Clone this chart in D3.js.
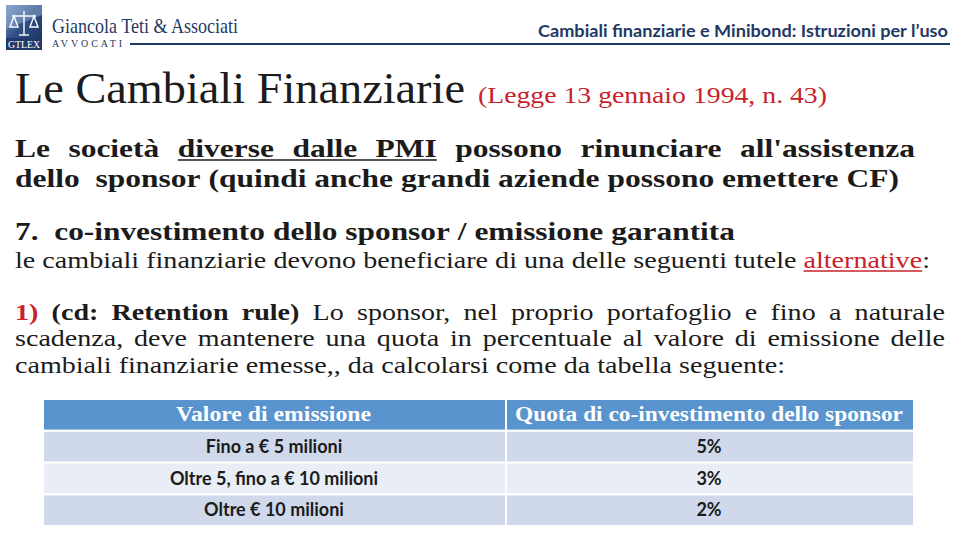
<!DOCTYPE html>
<html>
<head>
<meta charset="utf-8">
<script src="https://cdn.jsdelivr.net/npm/d3@7"></script>
<style>
  html, body { margin: 0; padding: 0; background: #fff; }
  svg { display: block; }
</style>
</head>
<body>
<div id="slide"></div>
<script>

// slide texts
var headerFirm = "Giancola Teti & Associati";
var headerSub = "AVVOCATI";
var headerTopic = "Cambiali finanziarie e Minibond: Istruzioni per l\u2019uso";
var titleMain = "Le Cambiali Finanziarie";
var titleRef = "(Legge 13 gennaio 1994, n. 43)";

// table data
var tableHeaders = ["Valore di emissione", "Quota di co-investimento dello sponsor"];
var tableValori = ["Fino a \u20ac 5 milioni", "Oltre 5, fino a \u20ac 10 milioni", "Oltre \u20ac 10 milioni"];
var tableQuote = ["5%", "3%", "2%"];

var W = 960, H = 542;
var ink = "#1b1b1b", red = "#c8232c", navy = "#1f3864";
var serif = "'Liberation Serif', serif";

var svg = d3.select("#slide").append("svg")
    .attr("width", W)
    .attr("height", H)
    .attr("viewBox", "0 0 " + W + " " + H);

svg.append("rect").attr("width", W).attr("height", H).attr("fill", "#fff");

/**
 * Draws one line of mixed-style words, squeezed or justified to a width.
 * segs: [{t, b, c, u}] ; opt: {x, y, width, size, family, justify, sx}
 * returns the horizontal glyph scale used
 */
function drawLine(parent, segs, opt){
    var fam = opt.family || serif;
    var g = parent.append("g").attr("transform", "translate(" + opt.x + "," + opt.y + ")");
    var tokens = [];
    segs.forEach(function(s, si){
        (s.t.match(/ *[^ ]+/g) || []).forEach(function(chunk){
            var word = chunk.replace(/^ +/, "");
            tokens.push({w: word, pre: chunk.length - word.length, s: s, si: si});
        });
    });

    // measure a space
    var probe = g.append("text").attr("font-family", fam).attr("font-size", opt.size)
        .style("white-space", "pre").text("n n");
    var withSp = probe.node().getComputedTextLength();
    probe.text("nn");
    var space = withSp - probe.node().getComputedTextLength();
    probe.remove();

    var inner = g.append("g");
    var sum = 0, spaces = 0;
    tokens.forEach(function(tk){
        tk.node = inner.append("text")
            .attr("font-family", fam)
            .attr("font-size", opt.size)
            .attr("font-weight", tk.s.b ? "bold" : "normal")
            .attr("fill", tk.s.c || ink)
            .text(tk.w);
        tk.len = tk.node.node().getComputedTextLength();
        sum += tk.len;
        spaces += tk.pre;
    });

    var sx, gap;
    if(opt.justify){
        sx = opt.sx || 1;
        gap = (opt.width - sum * sx) / spaces / sx;
    } else {
        sx = opt.width / (sum + space * spaces);
        gap = space;
    }
    inner.attr("transform", "scale(" + sx + ",1)");

    var pos = 0;
    tokens.forEach(function(tk){
        pos += tk.pre * gap;
        tk.x0 = pos;
        tk.node.attr("x", pos);
        pos += tk.len;
        tk.x1 = pos;
    });

    // underlines per segment
    segs.forEach(function(s, si){
        if(!s.u) return;
        var ts = tokens.filter(function(tk){ return tk.si === si; });
        inner.append("line")
            .attr("x1", ts[0].x0).attr("x2", ts[ts.length - 1].x1)
            .attr("y1", 3).attr("y2", 3)
            .attr("stroke", s.c || ink)
            .attr("stroke-width", 1.6);
    });
    return sx;
}

// ---------- header ----------
var logo = svg.append("g").attr("transform", "translate(6,5)");
var grad = svg.append("defs").append("linearGradient")
    .attr("id", "logoGrad").attr("x1", 0).attr("y1", 0).attr("x2", 1).attr("y2", 1);
grad.append("stop").attr("offset", "0%").attr("stop-color", "#7d9cc8");
grad.append("stop").attr("offset", "45%").attr("stop-color", "#2f4f86");
grad.append("stop").attr("offset", "100%").attr("stop-color", "#1a2f5a");

logo.append("rect").attr("width", 36).attr("height", 45).attr("fill", "url(#logoGrad)");
logo.append("path").attr("d", "M0,0 L36,0 L36,10 L0,24 Z").attr("fill", "#9fb6d8").attr("opacity", 0.45);
// scales icon
var sc = logo.append("g").attr("stroke", "#fff").attr("stroke-width", 1.4).attr("fill", "none");
sc.append("line").attr("x1", 18).attr("y1", 6).attr("x2", 18).attr("y2", 30);
sc.append("line").attr("x1", 6).attr("y1", 11).attr("x2", 30).attr("y2", 11);
sc.append("path").attr("d", "M8,11 L4,22 L12,22 Z M28,11 L24,22 L32,22 Z");
sc.append("line").attr("x1", 13).attr("y1", 30).attr("x2", 23).attr("y2", 30);
logo.append("rect").attr("x", 0).attr("y", 33).attr("width", 36).attr("height", 12).attr("fill", "#23386a");
logo.append("text")
    .attr("x", 18).attr("y", 43)
    .attr("text-anchor", "middle")
    .attr("font-family", serif)
    .attr("font-size", 10)
    .attr("fill", "#fff")
    .attr("textLength", 32).attr("lengthAdjust", "spacingAndGlyphs")
    .text("GTLEX");

svg.append("text")
    .attr("x", 52).attr("y", 33)
    .attr("font-family", serif)
    .attr("font-size", 21)
    .attr("fill", navy)
    .attr("textLength", 186).attr("lengthAdjust", "spacingAndGlyphs")
    .text(headerFirm);

svg.append("text")
    .attr("x", 52).attr("y", 47)
    .attr("font-family", serif)
    .attr("font-size", 10)
    .attr("fill", navy)
    .attr("textLength", 70).attr("lengthAdjust", "spacing")
    .text(headerSub);

svg.append("line")
    .attr("x1", 130).attr("x2", 950)
    .attr("y1", 44).attr("y2", 44)
    .attr("stroke", navy).attr("stroke-width", 2);

svg.append("text")
    .attr("x", 538).attr("y", 37)
    .attr("font-family", "Lato, sans-serif")
    .attr("font-weight", "bold")
    .attr("font-size", 17)
    .attr("fill", navy)
    .attr("textLength", 410).attr("lengthAdjust", "spacingAndGlyphs")
    .text(headerTopic);

// ---------- title ----------
drawLine(svg, [{t: titleMain}], {x: 15, y: 103, width: 450, size: 45});
drawLine(svg, [{t: titleRef, c: red}], {x: 478, y: 103, width: 349, size: 24});

// ---------- bold paragraph ----------
var sxBold = drawLine(svg, [{t: "dello  sponsor (quindi anche grandi aziende possono emettere CF)", b: true}],
    {x: 15, y: 187, width: 884, size: 26});
drawLine(svg, [
    {t: "Le società", b: true},
    {t: " diverse dalle PMI", b: true, u: true},
    {t: " possono rinunciare all'assistenza", b: true}
], {x: 15, y: 157, width: 900, size: 26, justify: true, sx: sxBold});

// ---------- point 7 ----------
drawLine(svg, [{t: "7.  co-investimento dello sponsor / emissione garantita", b: true}],
    {x: 15, y: 240, width: 720, size: 26});
drawLine(svg, [
    {t: "le cambiali finanziarie devono beneficiare di una delle seguenti tutele"},
    {t: " alternative", c: red, u: true},
    {t: ":"}
], {x: 15, y: 268, width: 915, size: 24});

// ---------- retention rule ----------
var sxReg = drawLine(svg, [{t: "cambiali finanziarie emesse,, da calcolarsi come da tabella seguente:"}],
    {x: 15, y: 373, width: 770, size: 24});
drawLine(svg, [
    {t: "1)", b: true, c: red},
    {t: " (cd: Retention rule)", b: true},
    {t: " Lo sponsor, nel proprio portafoglio e fino a naturale"}
], {x: 15, y: 320, width: 930, size: 24, justify: true, sx: sxReg});
drawLine(svg, [{t: "scadenza, deve mantenere una quota in percentuale al valore di emissione delle"}],
    {x: 15, y: 346, width: 930, size: 24, justify: true, sx: sxReg});

// ---------- table ----------
var rows = tableValori.map(function(v, i){ return {valore: v, quota: tableQuote[i]}; });
var colEdges = [44, 506, 913];

var y = d3.scaleBand()
    .domain(d3.range(rows.length + 1))
    .range([400, 525])
    .paddingInner(0.07);

var table = svg.append("g");

// header row
tableHeaders.forEach(function(h, c){
    table.append("rect")
        .attr("x", colEdges[c] + (c ? 1 : 0))
        .attr("y", y(0))
        .attr("width", colEdges[c + 1] - colEdges[c] - 1)
        .attr("height", y.bandwidth())
        .attr("fill", "#5a94cf");
});
table.append("text")
    .attr("x", 273.5).attr("y", y(0) + 21)
    .attr("text-anchor", "middle")
    .attr("font-family", serif).attr("font-weight", "bold").attr("font-size", 20)
    .attr("fill", "#fff")
    .attr("textLength", 195).attr("lengthAdjust", "spacingAndGlyphs")
    .text(tableHeaders[0]);
table.append("text")
    .attr("x", 709).attr("y", y(0) + 21)
    .attr("text-anchor", "middle")
    .attr("font-family", serif).attr("font-weight", "bold").attr("font-size", 20)
    .attr("fill", "#fff")
    .attr("textLength", 388).attr("lengthAdjust", "spacingAndGlyphs")
    .text(tableHeaders[1]);

var rowG = table.selectAll(".row")
    .data(rows)
    .enter().append("g")
    .attr("class", "row")
    .attr("transform", function(d, i){ return "translate(0," + y(i + 1) + ")"; });

[0, 1].forEach(function(c){
    rowG.append("rect")
        .attr("x", colEdges[c] + (c ? 1 : 0))
        .attr("width", colEdges[c + 1] - colEdges[c] - 1)
        .attr("height", y.bandwidth())
        .attr("fill", function(d, i){ return i % 2 ? "#e8edf6" : "#cfd9eb"; });
});

rowG.append("text")
    .attr("x", 274).attr("y", 21)
    .attr("text-anchor", "middle")
    .attr("font-family", "Lato, sans-serif").attr("font-weight", "bold").attr("font-size", 18)
    .attr("fill", ink)
    .text(function(d){ return d.valore; });

rowG.append("text")
    .attr("x", 709).attr("y", 21)
    .attr("text-anchor", "middle")
    .attr("font-family", "Lato, sans-serif").attr("font-weight", "bold").attr("font-size", 18)
    .attr("fill", ink)
    .text(function(d){ return d.quota; });

</script>
</body>
</html>
